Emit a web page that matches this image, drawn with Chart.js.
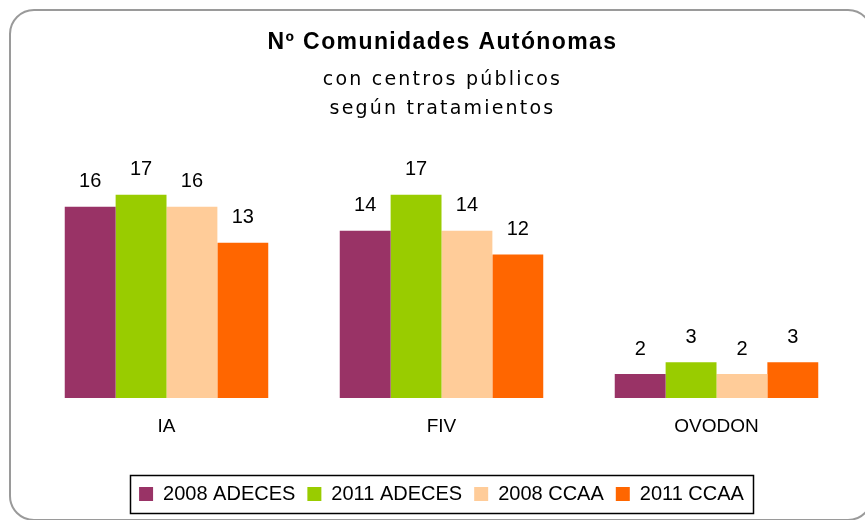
<!DOCTYPE html>
<html>
<head>
<meta charset="utf-8">
<script src="https://cdn.jsdelivr.net/npm/chart.js@4.4.1/dist/chart.umd.min.js"></script>
<style>
  html, body { margin: 0; padding: 0; background: #fff; overflow: hidden; }
  #marco {
    position: absolute; left: 9px; top: 9px; width: 864px; height: 512px;
    box-sizing: border-box; border: 2px solid #9a9a9a; border-radius: 25px;
  }
  #lienzo { position: absolute; left: 0; top: 0; }
</style>
</head>
<body>
<div id="marco"></div>
<canvas id="lienzo" width="865" height="520"></canvas>
<script>
// Datos
const categorias = ['IA', 'FIV', 'OVODON'];
const adeces2008 = [16, 14, 2];
const adeces2011 = [17, 17, 3];
const ccaa2008 = [16, 14, 2];
const ccaa2011 = [13, 12, 3];
const series = ['2008 ADECES', '2011 ADECES', '2008 CCAA', '2011 CCAA'];
const colores = ['#993366', '#99CC00', '#FFCC99', '#FF6600'];

const titulo = 'Nº Comunidades Autónomas';
const subtitulo = ['con centros públicos', 'según tratamientos'];

Chart.defaults.font.family = "'Liberation Sans', Arial, sans-serif";
Chart.defaults.color = '#000';

// Título en tres líneas con espaciado entre letras
const pluginTitulo = {
    id: 'tituloEspaciado',
    afterDraw(chart) {
        const ctx = chart.ctx;
        const cx = (chart.chartArea.left + chart.chartArea.right) / 2 + 1;
        ctx.save();
        ctx.fillStyle = '#000';
        ctx.textAlign = 'center';
        ctx.textBaseline = 'alphabetic';
        ctx.letterSpacing = '1.4px';
        ctx.font = "bold 23px 'Liberation Sans', Arial, sans-serif";
        ctx.fillText(titulo, cx, 49);
        ctx.letterSpacing = '2.2px';
        ctx.font = "19px 'DejaVu Sans', sans-serif";
        ctx.fillText(subtitulo[0], cx, 85);
        ctx.fillText(subtitulo[1], cx, 114);
        ctx.restore();
    }
};

// Etiquetas de valor encima de cada barra
const pluginEtiquetas = {
    id: 'etiquetasValor',
    afterDatasetsDraw(chart) {
        const ctx = chart.ctx;
        ctx.save();
        ctx.fillStyle = '#000';
        ctx.font = "20px 'Liberation Sans', Arial, sans-serif";
        ctx.textAlign = 'center';
        ctx.textBaseline = 'middle';
        chart.data.datasets.forEach((ds, i) => {
            const meta = chart.getDatasetMeta(i);
            meta.data.forEach((bar, j) => {
                ctx.fillText(String(ds.data[j]), bar.x, bar.y - 25);
            });
        });
        ctx.restore();
    }
};

// Recuadro alrededor de la leyenda
const pluginMarcoLeyenda = {
    id: 'marcoLeyenda',
    afterDraw(chart) {
        const cajas = chart.legend.legendHitBoxes;
        if (!cajas || !cajas.length) return;
        let x0 = Infinity, x1 = -Infinity, y0 = Infinity, y1 = -Infinity;
        cajas.forEach(c => {
            x0 = Math.min(x0, c.left);
            x1 = Math.max(x1, c.left + c.width);
            y0 = Math.min(y0, c.top);
            y1 = Math.max(y1, c.top + c.height);
        });
        const ctx = chart.ctx;
        ctx.save();
        ctx.strokeStyle = '#000';
        ctx.lineWidth = 1.5;
        ctx.strokeRect(Math.round(x0 - 9) + 0.5, Math.round(y0 - 9) + 0.5,
            Math.round(x1 - x0 + 18), Math.round(y1 - y0 + 18));
        ctx.restore();
    }
};

const ctx = document.getElementById('lienzo').getContext('2d');

new Chart(ctx, {
    type: 'bar',
    data: {
        labels: categorias,
        datasets: [
            { label: series[0], data: adeces2008, backgroundColor: colores[0] },
            { label: series[1], data: adeces2011, backgroundColor: colores[1] },
            { label: series[2], data: ccaa2008, backgroundColor: colores[2] },
            { label: series[3], data: ccaa2011, backgroundColor: colores[3] }
        ]
    },
    options: {
        responsive: false,
        animation: false,
        events: [],
        layout: {
            padding: { top: 159, left: 29, right: 11, bottom: 6 }
        },
        datasets: {
            bar: { categoryPercentage: 0.74, barPercentage: 1.0, borderWidth: 0 }
        },
        scales: {
            x: {
                grid: { display: false },
                border: { display: false },
                ticks: { font: { size: 19 }, color: '#000', padding: 9 },
                afterFit(scale) { scale.height = 74; }
            },
            y: {
                display: false,
                min: 0,
                max: 20
            }
        },
        plugins: {
            title: { display: false },
            tooltip: { enabled: false },
            legend: {
                position: 'bottom',
                labels: {
                    boxWidth: 14,
                    boxHeight: 14,
                    padding: 12,
                    color: '#000',
                    font: { size: 20 }
                }
            }
        }
    },
    plugins: [pluginTitulo, pluginEtiquetas, pluginMarcoLeyenda]
});
</script>
</body>
</html>
